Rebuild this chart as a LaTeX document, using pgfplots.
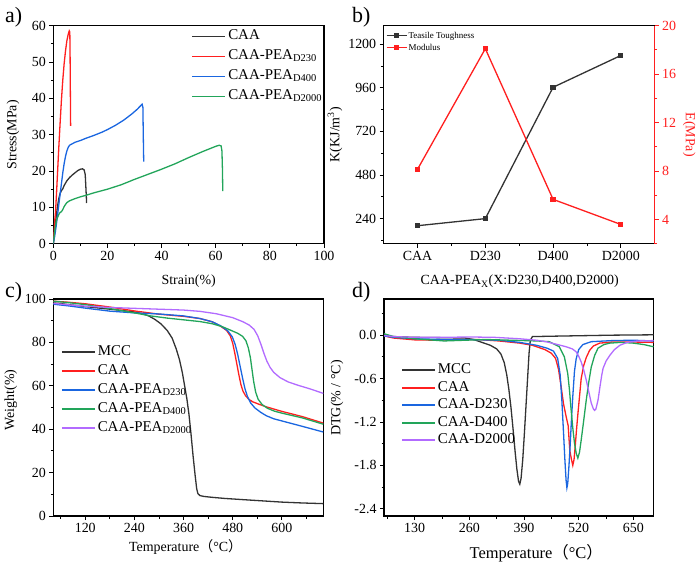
\documentclass[border=0pt]{standalone}
\usepackage{fontspec}
\setmainfont{Liberation Serif}
\newfontfamily\cjk{Noto Sans CJK SC}
\usepackage{pgfplots}
\pgfplotsset{compat=1.18}
\definecolor{cblack}{HTML}{333333}
\definecolor{cred}{HTML}{FF1F1F}
\definecolor{cblue}{HTML}{1A66E0}
\definecolor{cgreen}{HTML}{22A55A}
\definecolor{cpurple}{HTML}{B26BFF}
\newcommand{\fs}[1]{\fontsize{#1}{#1}\selectfont}
\pgfplotsset{
  myax/.style={scale only axis, tick align=outside,
    /pgf/number format/assume math mode=true,
    /pgf/number format/1000 sep={},
    tick label style={font=\fs{14}},
    label style={font=\fs{14}},
    major tick length=4bp, minor tick length=2.5bp,
    every tick/.style={line width=0.9bp, black},
    axis line style={line width=1.1bp},
    xtick pos=lower, ytick pos=left,
    every axis plot/.append style={line width=1.3bp},
  },
  linelegend/.style={legend cell align=left,
    legend image code/.code={\draw[##1, line width=1.7bp] (0bp,0bp) -- (33bp,0bp);}},
}
\begin{document}
\begin{tikzpicture}
\useasboundingbox (0,0) rectangle (696bp,562bp);
% panel labels
\node[anchor=base west, font=\fs{22}, inner sep=0pt] at (5bp,539bp) {a)};
\node[anchor=base west, font=\fs{22}, inner sep=0pt] at (352bp,539bp) {b)};
\node[anchor=base west, font=\fs{22}, inner sep=0pt] at (5bp,264bp) {c)};
\node[anchor=base west, font=\fs{22}, inner sep=0pt] at (352bp,264bp) {d)};
% ---------- a ----------
\begin{axis}[myax, at={(53.3bp,318.3bp)}, anchor=south west,
  width=270.7bp, height=218bp,
  xmin=0, xmax=100, ymin=0, ymax=60,
  xtick={0,20,...,100}, ytick={0,10,...,60},
  minor x tick num=1, minor y tick num=1,
  xlabel={Strain(\%)}, ylabel={Stress(MPa)},
  xlabel style={at={(axis description cs:0.5,-0.174)}, anchor=center},
  ylabel style={at={(axis description cs:-0.149,0.5)}, anchor=center},
  linelegend,
  legend style={draw=none, fill=none, inner sep=0pt, font=\fs{15},
    at={(axis description cs:0.51,0.997)}, anchor=north west,
    nodes={inner sep=2bp, text height=11bp, text depth=5bp}},
]
\addplot[cblack] coordinates {(0,0) (0.3,2) (0.6,4.5) (1,7) (1.5,10) (2,12.3) (2.5,13.8) (3,14.6) (3.5,15.1) (4,16) (5,17.3) (6,18.2) (7,18.9) (8,19.5) (9,20.1) (10,20.5) (10.8,20.6) (11.4,20.3) (11.8,19) (12,16) (12.2,13) (12.3,11.2)};
\addlegendentry{CAA}
\addplot[cred] coordinates {(0,0) (0.3,3) (0.6,7) (0.8,8.5) (1.2,14) (1.6,20) (2,26) (2.5,33) (3,39.5) (3.5,45) (4,49.5) (4.5,53) (5,55.8) (5.5,57.6) (5.9,58.6) (6.1,58.3) (6.2,52) (6.3,42) (6.4,32.4)};
\addlegendentry{CAA-PEA\textsubscript{D230}}
\addplot[cblue] coordinates {(0,0) (0.5,2) (1,4.5) (1.5,7.5) (2,10.5) (2.5,13.5) (3,16.5) (3.5,19.5) (4,22) (4.5,24) (5,25.5) (5.5,26.5) (6,27.1) (7,27.5) (8,27.9) (10,28.4) (12,29) (15,29.8) (18,30.7) (20,31.4) (23,32.6) (26,34) (29,35.7) (31,37) (32.8,38.4) (33.1,37.5) (33.2,32) (33.3,27) (33.4,22.6)};
\addlegendentry{CAA-PEA\textsubscript{D400}}
\addplot[cgreen] coordinates {(0,0) (0.3,2) (0.7,4.5) (1.2,6.5) (2,8) (2.5,8.6) (3,8.8) (3.5,9.4) (4,10.2) (4.5,10.8) (5,11.3) (6,11.8) (7,12.1) (8,12.4) (10,12.9) (12,13.3) (15,14) (20,15) (25,16.2) (30,17.7) (35,19.1) (40,20.5) (45,22) (50,23.7) (55,25.3) (60,26.8) (61.3,27.1) (62,26.9) (62.3,25.5) (62.5,20) (62.6,14.5)};
\addlegendentry{CAA-PEA\textsubscript{D2000}}
\end{axis}
% ---------- b ----------
\begin{axis}[myax, at={(383.7bp,318.3bp)}, anchor=south west,
  width=271bp, height=218bp,
  xmin=-0.5, xmax=3.5, ymin=102, ymax=1302,
  xtick={0,1,2,3}, xticklabels={CAA,D230,D400,D2000},
  minor x tick num=1,
  ytick={240,480,720,960,1200}, minor ytick={120,360,600,840,1080},
  xlabel={CAA-PEA\textsubscript{X}(X:D230,D400,D2000)},
  ylabel={K(KJ/m\textsuperscript{3})},
  xlabel style={at={(axis description cs:0.502,-0.174)}, anchor=center},
  ylabel style={at={(axis description cs:-0.18,0.5)}, anchor=center},
  legend cell align=left,
  legend image code/.code={\draw[mark repeat=2, mark phase=2, #1, line width=1bp] plot coordinates {(0bp,0bp) (10bp,0bp) (20bp,0bp)};},
  legend style={draw=none, fill=none, inner sep=0pt, font=\fs{9},
    at={(axis description cs:0.008,0.982)}, anchor=north west,
    nodes={inner sep=1.5bp, text height=7bp, text depth=2bp}},
]
\addplot[cblack, mark=square*, mark size=2bp, mark options={solid}] coordinates {(0,201) (1,240) (2,963) (3,1138)};
\addlegendentry{Teasile Toughness}
\addlegendimage{cred, mark=square*, mark size=2bp}
\addlegendentry{Modulus}
\end{axis}
\begin{axis}[myax, at={(383.7bp,318.3bp)}, anchor=south west,
  width=271bp, height=218bp,
  xmin=-0.5, xmax=3.5, ymin=2, ymax=20,
  axis x line=none, axis y line*=right,
  ytick pos=right,
  ytick={4,8,12,16,20}, minor ytick={2,6,10,14,18},
  y axis line style={cred, line width=1.1bp},
  every tick/.style={line width=0.9bp, cred},
  yticklabel style={cred},
  ylabel={E(MPa)},
  ylabel style={cred, at={(axis description cs:1.127,0.5)}, anchor=center, rotate=180},
]
\addplot[cred, mark=square*, mark size=2bp] coordinates {(0,8.15) (1,18.1) (2,5.66) (3,3.59)};
\end{axis}
% ---------- c ----------
\begin{axis}[myax, at={(53.3bp,46bp)}, anchor=south west,
  width=270bp, height=217bp,
  xmin=42, xmax=701, ymin=0, ymax=100,
  xtick={120,240,360,480,600}, minor xtick={60,180,300,420,540,660},
  ytick={0,20,...,100}, minor y tick num=1,
  xlabel={Temperature{\cjk （}°C{\cjk ）}}, ylabel={Weight(\%)},
  xlabel style={at={(axis description cs:0.49,-0.141)}, anchor=center},
  ylabel style={at={(axis description cs:-0.157,0.535)}, anchor=center},
  linelegend,
  legend style={draw=none, fill=none, inner sep=0pt, font=\fs{15},
    at={(axis description cs:0.028,0.802)}, anchor=north west,
    nodes={inner sep=2bp, text height=11bp, text depth=4bp}},
]
\addplot[cblack] coordinates {(42,98.2) (60,97.9) (80,97.4) (100,97) (120,96.5) (150,95.9) (180,95.3) (210,94.7) (240,94) (260,93.2) (275,92.2) (290,90.6) (305,88.5) (320,85.5) (332,82) (342,77) (350,72) (357,66) (363,59.5) (368,54) (373,47) (378,38) (383,28) (388,19) (392,12.5) (395,10.3) (400,9.4) (410,9) (430,8.6) (460,8.1) (500,7.6) (550,7) (600,6.4) (650,6) (701,5.7)};
\addlegendentry{MCC}
\addplot[cred] coordinates {(42,99) (80,98.5) (120,97.8) (180,96.3) (240,94.5) (300,93) (360,92) (400,91) (430,89.5) (450,87.5) (465,85.5) (474,83) (480,79.5) (485,75) (490,70) (495,65) (500,60.5) (505,57.5) (511,55.5) (519,53.8) (529,52.6) (544,51.5) (562,50.3) (600,48.2) (650,45.8) (701,42.8)};
\addlegendentry{CAA}
\addplot[cblue] coordinates {(42,97.6) (80,96.8) (120,95.8) (180,94.4) (240,93.6) (300,93.1) (360,92.2) (400,91) (430,89.5) (450,87.7) (468,85.3) (479,82.5) (486,79) (492,74.5) (498,69) (504,63.5) (510,58.5) (516,55) (524,52) (534,49.8) (548,47.8) (562,46.2) (580,44.8) (600,43.8) (650,41.3) (701,38.7)};
\addlegendentry{CAA-PEA\textsubscript{D230}}
\addplot[cgreen] coordinates {(42,99) (80,98.3) (120,97.4) (180,95.6) (240,93.6) (280,92.2) (320,91.2) (360,90.4) (400,89.6) (430,88.6) (455,87.2) (475,85.6) (492,84.2) (504,82.8) (512,80.8) (518,77.5) (523,73) (527,67.5) (531,62) (536,57) (542,53.8) (552,51.3) (565,49.6) (582,48.3) (600,47.4) (650,45.2) (701,42.3)};
\addlegendentry{CAA-PEA\textsubscript{D400}}
\addplot[cpurple] coordinates {(42,98) (80,97.3) (120,96.7) (180,96.1) (240,95.7) (300,95.3) (360,94.9) (400,94.3) (440,93.2) (480,91.4) (505,89.5) (520,88) (532,86) (541,83) (549,79) (556,75) (563,71.5) (571,68.5) (580,66.2) (595,63.8) (615,61.8) (640,60.2) (670,58.5) (701,56.5)};
\addlegendentry{CAA-PEA\textsubscript{D2000}}
\end{axis}
% ---------- d ----------
\begin{axis}[myax, at={(384bp,46bp)}, anchor=south west,
  width=269.5bp, height=217bp,
  xmin=57, xmax=698, ymin=-2.5, ymax=0.5,
  xtick={130,260,390,520,650}, minor xtick={65,195,325,455,585},
  ytick={-2.4,-1.8,-1.2,-0.6,0}, minor ytick={-2.1,-1.5,-0.9,-0.3,0.3},
  yticklabel style={/pgf/number format/.cd, fixed, fixed zerofill, precision=1},
  xlabel={Temperature{\cjk （}°C{\cjk ）}}, ylabel={DTG(\% / °C)},
  xlabel style={font=\fs{16.5}, at={(axis description cs:0.565,-0.172)}, anchor=center},
  ylabel style={at={(axis description cs:-0.174,0.544)}, anchor=center},
  linelegend,
  legend style={draw=none, fill=none, inner sep=0pt, font=\fs{15},
    at={(axis description cs:0.063,0.713)}, anchor=north west,
    nodes={inner sep=2bp, text height=10.5bp, text depth=3bp}},
]
\addplot[cblack] coordinates {(57,0) (70,-0.015) (100,-0.025) (130,-0.03) (200,-0.035) (250,-0.04) (270,-0.06) (290,-0.1) (310,-0.14) (325,-0.19) (335,-0.26) (343,-0.38) (349,-0.55) (354,-0.75) (359,-1.0) (364,-1.3) (369,-1.62) (373,-1.85) (377,-2.02) (380,-2.06) (383,-1.98) (387,-1.72) (391,-1.35) (395,-0.95) (399,-0.55) (402,-0.25) (405,-0.07) (410,-0.02) (450,-0.015) (500,-0.01) (600,0) (698,0.005)};
\addlegendentry{MCC}
\addplot[cred] coordinates {(57,-0.01) (80,-0.04) (130,-0.065) (180,-0.07) (230,-0.06) (280,-0.06) (330,-0.08) (380,-0.11) (410,-0.14) (440,-0.2) (455,-0.25) (465,-0.32) (472,-0.47) (478,-0.7) (484,-0.95) (490,-1.12) (495,-1.25) (499,-1.6) (503,-1.72) (506,-1.8) (509,-1.72) (512,-1.52) (515,-1.3) (518,-1.1) (522,-0.85) (526,-0.6) (532,-0.42) (538,-0.31) (546,-0.21) (555,-0.15) (570,-0.11) (600,-0.095) (650,-0.095) (698,-0.1)};
\addlegendentry{CAA}
\addplot[cblue] coordinates {(57,-0.01) (80,-0.03) (130,-0.05) (200,-0.06) (260,-0.06) (330,-0.07) (380,-0.1) (420,-0.14) (445,-0.18) (460,-0.22) (470,-0.32) (476,-0.55) (480,-0.9) (484,-1.35) (487,-1.7) (490,-2.0) (492,-2.11) (494,-2.05) (497,-1.8) (500,-1.5) (503,-1.15) (506,-0.85) (510,-0.5) (514,-0.33) (520,-0.2) (530,-0.13) (550,-0.09) (600,-0.075) (650,-0.07) (698,-0.08)};
\addlegendentry{CAA-D230}
\addplot[cgreen] coordinates {(57,0.02) (80,-0.02) (130,-0.05) (200,-0.08) (250,-0.07) (300,-0.06) (360,-0.07) (420,-0.08) (450,-0.09) (474,-0.16) (486,-0.3) (494,-0.53) (498,-0.75) (502,-1.03) (506,-1.28) (510,-1.49) (514,-1.63) (518,-1.7) (522,-1.62) (526,-1.45) (532,-1.18) (538,-0.9) (544,-0.65) (550,-0.44) (558,-0.28) (566,-0.18) (580,-0.13) (594,-0.11) (620,-0.1) (650,-0.11) (675,-0.13) (698,-0.16)};
\addlegendentry{CAA-D400}
\addplot[cpurple] coordinates {(57,-0.005) (80,-0.02) (130,-0.03) (200,-0.03) (260,-0.025) (320,-0.03) (380,-0.05) (420,-0.07) (442,-0.09) (470,-0.13) (490,-0.16) (505,-0.19) (514,-0.23) (520,-0.29) (526,-0.37) (532,-0.48) (538,-0.62) (544,-0.78) (550,-0.94) (555,-1.02) (558,-1.04) (561,-1.02) (566,-0.9) (571,-0.7) (575,-0.55) (578,-0.46) (585,-0.36) (594,-0.28) (605,-0.2) (618,-0.14) (635,-0.1) (660,-0.08) (698,-0.075)};
\addlegendentry{CAA-D2000}
\end{axis}
\end{tikzpicture}
\end{document}
